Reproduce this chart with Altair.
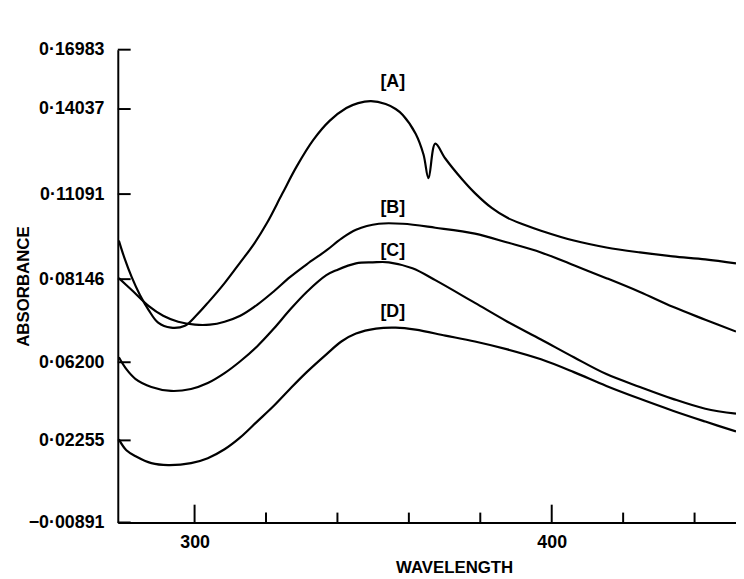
import altair as alt
import pandas as pd

# ---- data (wavelength, absorbance) ----
A_X = [278.8, 280.4, 282.4, 284.7, 287.1, 289.8, 293.4, 297.3, 300.4, 303.7, 308.4, 312.8, 316.7,
       320.3, 324.5, 328.6, 333.3, 337.8, 342.5, 345.8, 349.4, 353.5, 356.3, 358.3, 361.9, 364.1,
       365.5, 367.4, 370.2, 374.9, 378.5, 383.2, 387.6, 392.3, 397.0, 406.2, 415.3, 424.7, 433.9,
       443.0, 451.6]
A_Y = [0.09482, 0.08865, 0.08215, 0.07775, 0.07428, 0.07127, 0.07011, 0.07057, 0.07289, 0.07590,
       0.08053, 0.08728, 0.09379, 0.10098, 0.11091, 0.12050, 0.12975, 0.13626, 0.14086, 0.14332,
       0.14430, 0.14283, 0.14037, 0.13831, 0.13181, 0.12461, 0.11639, 0.12838, 0.12324, 0.11605,
       0.11125, 0.10612, 0.10269, 0.10030, 0.09824, 0.09482, 0.09242, 0.09071, 0.08934, 0.08831,
       0.08694]

B_X = [278.8, 282.4, 287.1, 291.2, 295.4, 300.1, 304.3, 308.4, 312.8, 317.5, 322.3, 326.7, 331.4,
       336.9, 341.1, 345.2, 351.6, 358.3, 367.4, 378.5, 387.6, 397.0, 406.2, 415.3, 424.7, 433.9,
       443.0, 451.6]
B_Y = [0.08181, 0.07891, 0.07520, 0.07289, 0.07150, 0.07080, 0.07080, 0.07150, 0.07289, 0.07544,
       0.07868, 0.08215, 0.08660, 0.09139, 0.09550, 0.09858, 0.10064, 0.10064, 0.09927, 0.09721,
       0.09413, 0.09071, 0.08626, 0.08181, 0.07845, 0.07497, 0.07196, 0.06918]

C_X = [278.8, 280.9, 283.5, 287.9, 293.4, 299.0, 303.7, 308.4, 312.8, 317.5, 322.2, 326.7, 331.4,
       336.9, 339.7, 345.2, 349.9, 354.4, 361.0, 367.4, 378.5, 387.6, 397.0, 406.2, 415.3, 424.7,
       433.9, 443.0, 451.6]
C_Y = [0.06316, 0.05850, 0.05351, 0.04952, 0.04752, 0.04852, 0.05151, 0.05651, 0.06223, 0.06570,
       0.06988, 0.07428, 0.07845, 0.08283, 0.08455, 0.08694, 0.08728, 0.08728, 0.08523, 0.08123,
       0.07590, 0.07150, 0.06733, 0.06316, 0.05601, 0.04952, 0.04352, 0.03853, 0.03603]

D_X = [278.8, 280.9, 283.5, 287.9, 292.6, 299.0, 303.7, 308.4, 312.8, 317.5, 322.2, 326.7, 331.4,
       336.9, 341.1, 345.2, 350.8, 356.3, 361.9, 370.2, 378.5, 387.6, 397.0, 406.2, 415.3, 424.7,
       433.9, 443.0, 451.6]
D_Y = [0.02305, 0.01876, 0.01649, 0.01383, 0.01308, 0.01383, 0.01573, 0.01914, 0.02405, 0.03204,
       0.04003, 0.04852, 0.05701, 0.06385, 0.06686, 0.06872, 0.06988, 0.07011, 0.06964, 0.06825,
       0.06686, 0.06501, 0.06269, 0.05701, 0.05001, 0.04352, 0.03753, 0.03204, 0.02704]

CURVE_LABELS = ["[A]", "[B]", "[C]", "[D]"]
LABEL_X = [355.5, 355.5, 355.5, 355.5]
LABEL_Y = [0.15363, 0.10595, 0.09122, 0.07370]

Y_TICKS = [-0.00891, 0.02255, 0.06200, 0.08146, 0.11091, 0.14037, 0.16983]
X_LABELED = [300, 400]
X_MINOR = [320, 340, 360, 380, 420, 440]

# ---- build tables ----
rows = []
for name, xs, ys in [("A", A_X, A_Y), ("B", B_X, B_Y), ("C", C_X, C_Y), ("D", D_X, D_Y)]:
    for x, y in zip(xs, ys):
        rows.append({"curve": name, "wavelength": x, "absorbance": y})
df = pd.DataFrame(rows)
labels_df = pd.DataFrame({"label": CURVE_LABELS, "wavelength": LABEL_X, "absorbance": LABEL_Y})
yt_df = pd.DataFrame({"absorbance": Y_TICKS})
xmaj_df = pd.DataFrame({"wavelength": X_LABELED})
xmin_df = pd.DataFrame({"wavelength": X_MINOR})

W, H = 625, 478
FONT = "Liberation Sans"

xscale = alt.Scale(domain=[278.5, 451.6], nice=False, zero=False)
# the printed axis is not evenly graduated: piecewise scale through the printed ticks
yscale = alt.Scale(domain=Y_TICKS, range=[478, 395, 316, 232, 146, 60, 0], nice=False, zero=False)

x_axis = alt.Axis(values=X_LABELED, ticks=False, tickSize=0, grid=False, domain=True,
                  domainColor="black", domainWidth=2, labelFont=FONT, labelFontSize=18,
                  labelFontWeight="bold", labelColor="black", labelPadding=11, labelFlush=False,
                  labelOverlap=False, title="WAVELENGTH", titleFont=FONT, titleFontSize=17,
                  titleFontWeight="bold", titleColor="black", titleX=340, titleY=46,
                  titleAlign="center", titleBaseline="middle")
y_axis = alt.Axis(values=Y_TICKS, ticks=False, tickSize=0, grid=False, domain=True,
                  domainColor="black", domainWidth=2, labelFont=FONT, labelFontSize=18,
                  labelFontWeight="bold", labelColor="black", labelPadding=14, labelFlush=False,
                  labelOverlap=False,
                  labelExpr="replace(format(datum.value, '.5f'), '.', '\u00b7')",
                  title="ABSORBANCE", titleFont=FONT, titleFontSize=17, titleFontWeight="bold",
                  titleColor="black", titleX=-95, titleY=239, titleAngle=270,
                  titleAlign="center", titleBaseline="middle")

X = alt.X("wavelength:Q", scale=xscale, axis=x_axis)
Y = alt.Y("absorbance:Q", scale=yscale, axis=y_axis)

lines = alt.Chart(df).mark_line(color="black", strokeWidth=2.2, interpolate="catmull-rom",
                                clip=True).encode(x=X, y=Y, detail="curve:N")

texts = alt.Chart(labels_df).mark_text(font=FONT, fontSize=18, fontWeight="bold", color="black",
                                       align="center", baseline="middle").encode(
    x=X, y=Y, text="label:N")

yticks = alt.Chart(yt_df).mark_rule(color="black", strokeWidth=2).encode(
    y=Y, x=alt.value(0), x2=alt.value(13))
xmajor = alt.Chart(xmaj_df).mark_rule(color="black", strokeWidth=2).encode(
    x=X, y=alt.value(H), y2=alt.value(H - 18))
xminor = alt.Chart(xmin_df).mark_rule(color="black", strokeWidth=2).encode(
    x=X, y=alt.value(H), y2=alt.value(H - 10))

chart = alt.layer(lines, texts, yticks, xmajor, xminor).properties(
    width=W, height=H,
    autosize=alt.AutoSizeParams(type="none"),
    padding={"left": 111, "top": 39, "right": 0, "bottom": 54},
    background="white",
).configure_view(stroke=None)

chart.save("out.html", embed_options={"renderer": "svg", "actions": False})
